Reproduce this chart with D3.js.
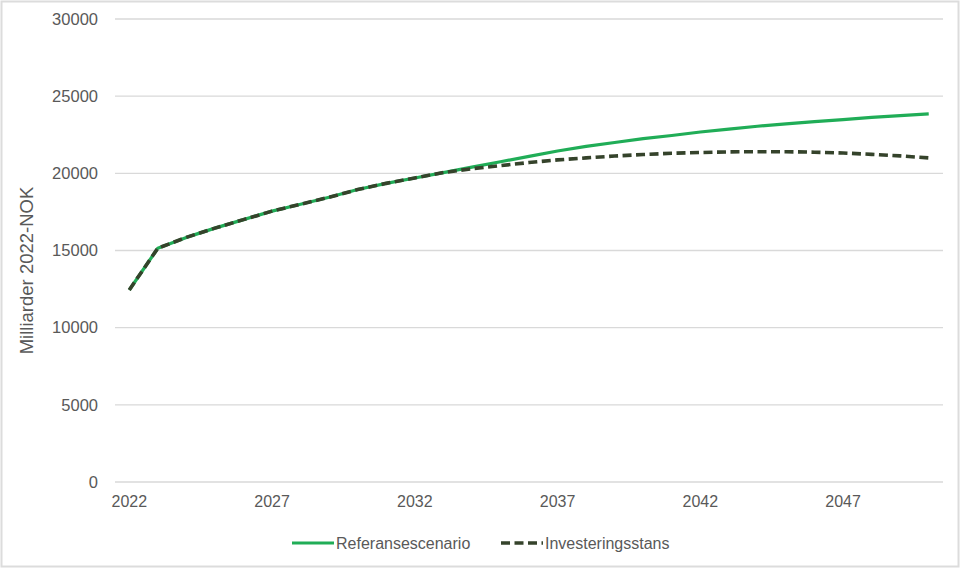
<!DOCTYPE html>
<html>
<head>
<meta charset="utf-8">
<script src="https://cdn.jsdelivr.net/npm/d3@7"></script>
<style>
  body { margin: 0; background: #fff; }
  svg { display: block; }
  .tick text { fill: #595959; }
</style>
</head>
<body>
<div id="chart"></div>
<script>
// data
var years = d3.range(2022, 2051);
var tickYears = [2022, 2027, 2032, 2037, 2042, 2047];
var yTicks = [0, 5000, 10000, 15000, 20000, 25000, 30000];

var referanse = [12440, 15150, 15850, 16450, 17000, 17550, 18000, 18450, 18950, 19350,
                 19700, 20050, 20400, 20750, 21100, 21450, 21750, 22000, 22250, 22450,
                 22680, 22870, 23050, 23200, 23350, 23480, 23620, 23740, 23850];
var investering = [12440, 15150, 15850, 16450, 17000, 17550, 18000, 18450, 18950, 19350,
                   19700, 20050, 20300, 20500, 20700, 20870, 21000, 21120, 21220, 21300,
                   21350, 21390, 21400, 21400, 21370, 21320, 21230, 21130, 21000];

var seriesNames = ["Referansescenario", "Investeringsstans"];

var W = 960, H = 568;
var margin = {top: 19, right: 17, bottom: 86, left: 115};
var width = W - margin.left - margin.right,
    height = H - margin.top - margin.bottom;

var font = "'Liberation Sans', Arial, sans-serif";

var svg = d3.select("#chart").append("svg")
    .attr("width", W)
    .attr("height", H);

// faint frame around the whole picture
svg.append("rect")
    .attr("x", 1.5).attr("y", 1.5)
    .attr("width", W - 3).attr("height", H - 3)
    .attr("fill", "none")
    .attr("stroke", "#dcdcdc")
    .attr("stroke-width", 2);

var g = svg.append("g")
    .attr("transform", "translate(" + margin.left + "," + margin.top + ")");

// category axis, points sit in the middle of each band
var x = d3.scaleBand().domain(years).range([0, width]);
var y = d3.scaleLinear().domain([0, 30000]).range([height, 0]);
function cx(yr) { return x(yr) + x.bandwidth() / 2; }

// gridlines
g.append("g")
    .selectAll("line")
    .data(yTicks)
  .enter().append("line")
    .attr("x1", 0).attr("x2", width)
    .attr("y1", function(d) { return y(d); })
    .attr("y2", function(d) { return y(d); })
    .attr("stroke", "#d9d9d9")
    .attr("stroke-width", 1.3);

// y axis labels
var yAxis = d3.axisLeft(y).tickValues(yTicks).tickSize(0).tickPadding(17)
    .tickFormat(d3.format("d"));
g.append("g")
    .call(yAxis)
    .call(function(s) { s.select(".domain").remove(); })
    .selectAll("text")
    .style("font-family", font)
    .style("font-size", "16.5px");

// x axis labels
var xAxis = d3.axisBottom(x).tickValues(tickYears).tickSize(0).tickPadding(14)
    .tickFormat(d3.format("d"));
g.append("g")
    .attr("transform", "translate(0," + height + ")")
    .call(xAxis)
    .call(function(s) { s.select(".domain").remove(); })
    .selectAll("text")
    .style("font-family", font)
    .style("font-size", "16px");

// y axis title
svg.append("text")
    .attr("transform", "translate(33," + (margin.top + height / 2 + 20) + ") rotate(-90)")
    .attr("text-anchor", "middle")
    .style("font-family", font)
    .style("font-size", "18.5px")
    .attr("fill", "#595959")
    .text("Milliarder 2022-NOK");

var line = d3.line()
    .x(function(d, i) { return cx(years[i]); })
    .y(function(d) { return y(d); });

g.append("path")
    .datum(referanse)
    .attr("fill", "none")
    .attr("stroke", "#20ad57")
    .attr("stroke-width", 3.2)
    .attr("stroke-linejoin", "round")
    .attr("d", line);

g.append("path")
    .datum(investering)
    .attr("fill", "none")
    .attr("stroke", "#35432b")
    .attr("stroke-width", 3.6)
    .attr("stroke-dasharray", "9,4.5")
    .attr("d", line);

// legend
var legend = svg.append("g").attr("transform", "translate(0,543)");
var legendItems = [
    {name: seriesNames[0], x: 292, color: "#20ad57", dash: null, w: 3.2},
    {name: seriesNames[1], x: 501, color: "#35432b", dash: "9,4.5", w: 3.6}
];
legendItems.forEach(function(d) {
    legend.append("line")
        .attr("x1", d.x).attr("x2", d.x + 42)
        .attr("y1", 0).attr("y2", 0)
        .attr("stroke", d.color)
        .attr("stroke-width", d.w)
        .attr("stroke-dasharray", d.dash);
    legend.append("text")
        .attr("x", d.x + 44)
        .attr("y", 6)
        .style("font-family", font)
        .style("font-size", "16px")
        .attr("fill", "#595959")
        .text(d.name);
});
</script>
</body>
</html>
